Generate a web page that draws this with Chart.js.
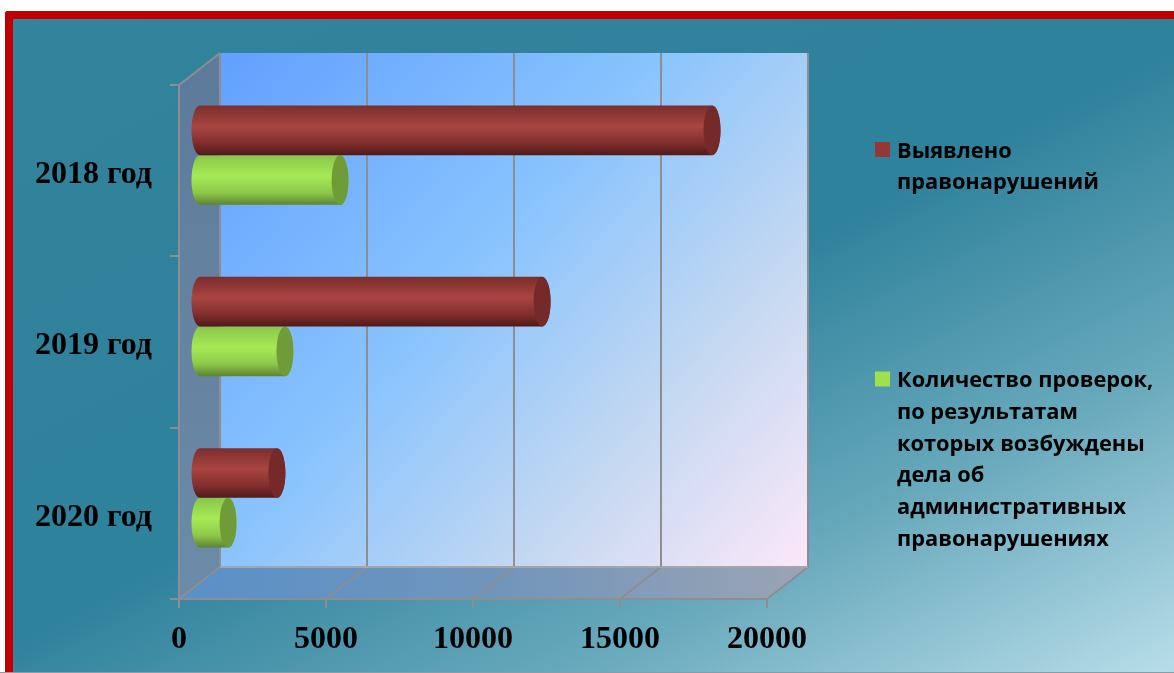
<!DOCTYPE html>
<html lang="ru">
<head>
  <meta charset="UTF-8">
  <title>Правонарушения</title>
  <script src="https://cdn.jsdelivr.net/npm/chart.js"></script>
  <style>
    html, body { margin: 0; padding: 0; background: #fff; overflow: hidden; }
    #wrap { position: relative; width: 1174px; height: 673px; }
    #panel {
      position: absolute; left: 5px; top: 11px; right: -10px; bottom: 0;
      box-sizing: border-box;
      border: 8px solid #c00000;
      border-bottom: 0;
      border-radius: 3px 0 0 0;
      background: linear-gradient(153deg, #32839c 0%, #2f829c 50%, #68a9bc 75%, #b8dde9 100%);
    }
    #line { position: absolute; left: 0; right: 0; bottom: 0; height: 1px; background: #8f9aa3; }
    canvas { position: absolute; left: 0; top: 0; }
  </style>
</head>
<body>
  <div id="wrap">
    <div id="panel"></div>
    <div id="line"></div>
    <canvas id="chart" width="1174" height="673"></canvas>
  </div>

  <script>
    const years = ['2018 год', '2019 год', '2020 год'];
    const violations = [17450, 11670, 2650];
    const inspections = [4800, 2925, 990];
    const tickValues = [0, 5000, 10000, 15000, 20000];
    const legendRed = ['Выявлено', 'правонарушений'];
    const legendGreen = ['Количество проверок,', 'по результатам', 'которых возбуждены', 'дела об', 'административных', 'правонарушениях'];

    const depthX = 41, depthY = -32;
    const gray = '#8c8e92';

    // back wall, side wall and floor of the 3D box
    const boxPlugin = {
      id: 'box',
      beforeDraw(chart) {
        const { ctx, chartArea: a, scales } = chart;
        const l = a.left, r = a.right, t = a.top, b = a.bottom;
        ctx.save();

        let g = ctx.createLinearGradient(l + depthX, t + depthY, r + depthX, b + depthY);
        g.addColorStop(0, '#62a0ff');
        g.addColorStop(0.42, '#88c3fe');
        g.addColorStop(0.72, '#c3d8f1');
        g.addColorStop(1, '#fce8f9');
        ctx.fillStyle = g;
        ctx.fillRect(l + depthX, t + depthY, r - l, b - t);

        // side wall
        g = ctx.createLinearGradient(0, t, 0, b);
        g.addColorStop(0, '#5f7b9b');
        g.addColorStop(1, '#6c8ba8');
        ctx.fillStyle = g;
        ctx.beginPath();
        ctx.moveTo(l, t);
        ctx.lineTo(l + depthX, t + depthY);
        ctx.lineTo(l + depthX, b + depthY);
        ctx.lineTo(l, b);
        ctx.closePath();
        ctx.fill();

        // floor
        g = ctx.createLinearGradient(l, 0, r + depthX, 0);
        g.addColorStop(0, '#5a90c8');
        g.addColorStop(0.5, '#7095bb');
        g.addColorStop(1, '#9ba4b4');
        ctx.fillStyle = g;
        ctx.beginPath();
        ctx.moveTo(l, b);
        ctx.lineTo(l + depthX, b + depthY);
        ctx.lineTo(r + depthX, b + depthY);
        ctx.lineTo(r, b);
        ctx.closePath();
        ctx.fill();

        ctx.strokeStyle = gray;
        ctx.lineWidth = 2;
        ctx.beginPath();
        ctx.moveTo(l, t);
        ctx.lineTo(l + depthX, t + depthY);
        ctx.stroke();

        tickValues.forEach(v => {
          const x = scales.x.getPixelForValue(v);
          ctx.beginPath();
          ctx.moveTo(x, b);
          ctx.lineTo(x + depthX, b + depthY);
          ctx.lineTo(x + depthX, t + depthY);
          ctx.stroke();
        });

        ctx.beginPath();
        ctx.moveTo(l + depthX, b + depthY);
        ctx.lineTo(r + depthX, b + depthY);
        ctx.strokeStyle = '#a2a6ab';
        ctx.stroke();
        ctx.restore();
      }
    };

    // bars are drawn as cylinders standing in the middle of the box depth
    const cylinderPlugin = {
      id: 'cylinder',
      beforeDatasetDraw(chart, args) {
        const { ctx } = chart;
        const c = chart.data.datasets[args.index].cylinder;
        args.meta.data.forEach(bar => {
          const h = bar.height;
          const x0 = bar.base + 20, x1 = bar.x + 20;
          const y = bar.y - 15.5;
          const rx = 8.5, ry = h / 2;
          const g = ctx.createLinearGradient(0, y - ry, 0, y + ry);
          g.addColorStop(0, c[0]);
          g.addColorStop(0.42, c[1]);
          g.addColorStop(0.75, c[2]);
          g.addColorStop(1, c[3]);
          ctx.save();
          ctx.fillStyle = g;
          ctx.beginPath();
          ctx.ellipse(x0, y, rx, ry, 0, Math.PI / 2, Math.PI * 1.5);
          ctx.lineTo(x1, y - ry);
          ctx.ellipse(x1, y, rx, ry, 0, -Math.PI / 2, Math.PI / 2);
          ctx.closePath();
          ctx.fill();
          ctx.fillStyle = c[4];
          ctx.beginPath();
          ctx.ellipse(x1, y, rx, ry, 0, 0, Math.PI * 2);
          ctx.fill();
          ctx.restore();
        });
        return false;
      }
    };

    const legendPlugin = {
      id: 'sideLegend',
      afterDraw(chart) {
        const { ctx } = chart;
        const blocks = [
          { lines: legendRed, color: '#953735', y: 151 },
          { lines: legendGreen, color: '#a0e04f', y: 380.5 }
        ];
        ctx.save();
        ctx.font = 'bold 21.8px "Open Sans"';
        ctx.textBaseline = 'middle';
        blocks.forEach(b => {
          ctx.fillStyle = b.color;
          ctx.fillRect(875, b.y - 9, 15, 15);
          ctx.fillStyle = '#000';
          b.lines.forEach((s, i) => ctx.fillText(s, 897, b.y + 0.5 + i * 31.7));
        });
        ctx.restore();
      }
    };

    const serif = { family: '"Liberation Serif"', size: 32, weight: 'bold' };

    new Chart(document.getElementById('chart'), {
      type: 'bar',
      data: {
        labels: years,
        datasets: [
          { label: legendRed.join(' '), data: violations, backgroundColor: '#953735',
            cylinder: ['#7c2e2c', '#a84542', '#822f2d', '#4f1a19', '#752a29'] },
          { label: legendGreen.join(' '), data: inspections, backgroundColor: '#a0e04f',
            cylinder: ['#8ac64a', '#a6ea55', '#8ec94a', '#5c8433', '#6f9c39'] }
        ]
      },
      options: {
        indexAxis: 'y',
        responsive: false,
        animation: false,
        categoryPercentage: 0.58,
        barPercentage: 1,
        layout: { padding: { top: 85, right: 407, left: 0, bottom: 0 } },
        plugins: { legend: { display: false }, tooltip: { enabled: false } },
        scales: {
          x: {
            min: 0,
            max: 20000,
            afterBuildTicks(scale) { scale.ticks = tickValues.map(v => ({ value: v })); },
            afterFit(scale) { scale.height = 74; },
            border: { color: gray, width: 2 },
            grid: { drawOnChartArea: false, color: gray, lineWidth: 2, tickLength: 9 },
            ticks: { color: '#000', font: serif, padding: 13, maxRotation: 0, callback: v => String(v) }
          },
          y: {
            afterFit(scale) { scale.width = 179; },
            border: { color: gray, width: 2 },
            grid: { offset: true, drawOnChartArea: false, color: gray, lineWidth: 2, tickLength: 9 },
            ticks: { color: '#000', font: serif, padding: 18, labelOffset: 4 }
          }
        }
      },
      plugins: [boxPlugin, cylinderPlugin, legendPlugin]
    });
  </script>
</body>
</html>
